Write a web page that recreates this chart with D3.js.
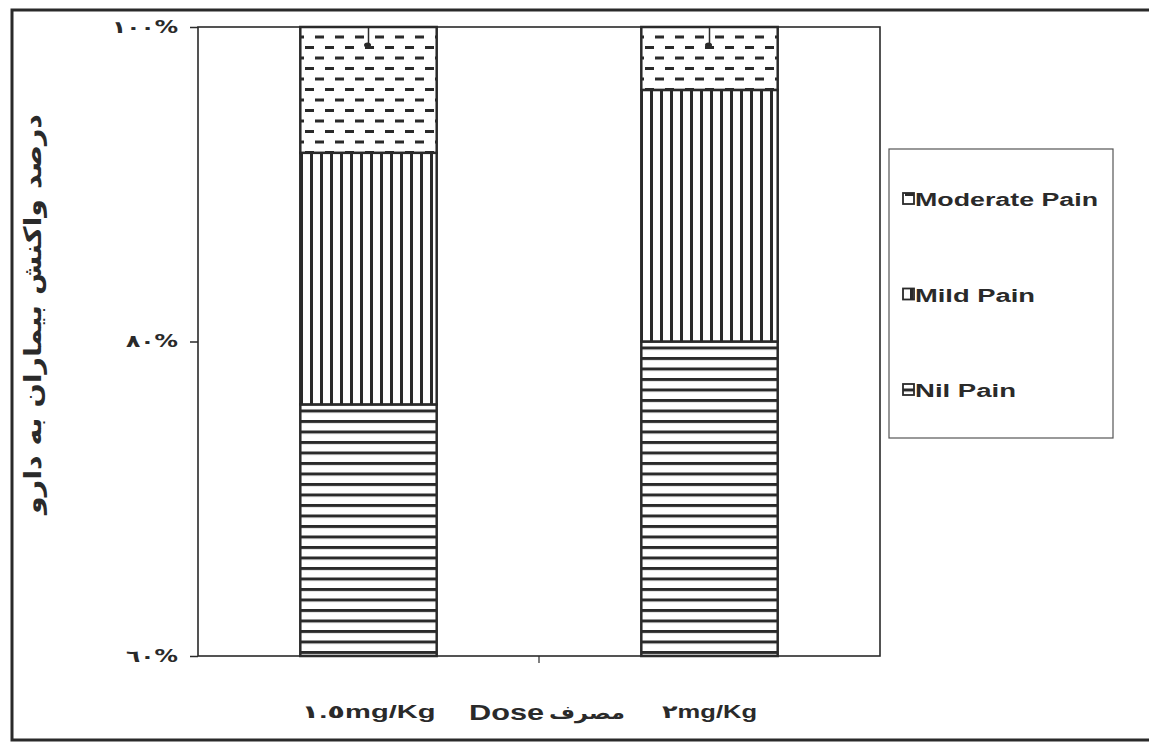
<!DOCTYPE html>
<html>
<head>
<meta charset="utf-8">
<script src="https://cdn.jsdelivr.net/npm/d3@7/dist/d3.min.js"></script>
<style>
  html, body { margin: 0; padding: 0; background: #fff; }
  svg { display: block; }
</style>
</head>
<body>
<svg id="chart" width="1149" height="744"></svg>
<script>
// ---- data ----
const categories = ["١.٥mg/Kg", "٢mg/Kg"];
const seriesNames = ["Nil Pain", "Mild Pain", "Moderate Pain"];
const nilPain = [76, 80];
const mildPain = [16, 16];
const moderatePain = [8, 4];
const errorVals = [1.15, 1.15];
const yTicks = [60, 80, 100];
const yTickLabels = ["٦٠%", "٨٠%", "١٠٠%"];
const yTitle = "درصد واکنش بیماران به دارو";
const xTitleLatin = "Dose";
const xTitleFa = "مصرف";

const svg = d3.select("#chart");
const ink = "#2a2a2a";

// ---- patterns ----
const defs = svg.append("defs");
const pNil = defs.append("pattern").attr("id", "pNil")
  .attr("patternUnits", "userSpaceOnUse").attr("width", 20).attr("height", 10.5);
pNil.append("rect").attr("width", 20).attr("height", 10.5).attr("fill", "#fff");
pNil.append("rect").attr("y", 0).attr("width", 20).attr("height", 3).attr("fill", ink);

const pMild = defs.append("pattern").attr("id", "pMild")
  .attr("patternUnits", "userSpaceOnUse").attr("width", 10).attr("height", 20);
pMild.append("rect").attr("width", 10).attr("height", 20).attr("fill", "#fff");
pMild.append("rect").attr("x", 0).attr("width", 3).attr("height", 20).attr("fill", ink);

const pMod = defs.append("pattern").attr("id", "pMod")
  .attr("patternUnits", "userSpaceOnUse").attr("width", 20).attr("height", 21);
pMod.append("rect").attr("width", 20).attr("height", 21).attr("fill", "#fff");
pMod.append("rect").attr("x", 5).attr("y", 4).attr("width", 9).attr("height", 3).attr("fill", ink);
pMod.append("rect").attr("x", -5).attr("y", 14.5).attr("width", 9).attr("height", 3).attr("fill", ink);
pMod.append("rect").attr("x", 15).attr("y", 14.5).attr("width", 9).attr("height", 3).attr("fill", ink);

const fills = {"Nil Pain": "url(#pNil)", "Mild Pain": "url(#pMild)", "Moderate Pain": "url(#pMod)"};

// ---- outer frame ----
svg.append("path")
  .attr("d", "M1160,10 L12,10 L12,740 L1160,740")
  .attr("fill", "none").attr("stroke", ink).attr("stroke-width", 3);

// ---- scales ----
const plot = {left: 198, right: 880, top: 27, bottom: 656};
const x = d3.scaleBand().domain(categories)
  .range([plot.left, plot.right]).paddingInner(0.6).paddingOuter(0.3);
const y = d3.scaleLinear().domain([60, 100]).range([plot.bottom, plot.top]);

// plot frame
svg.append("rect")
  .attr("x", plot.left).attr("y", plot.top)
  .attr("width", plot.right - plot.left).attr("height", plot.bottom - plot.top)
  .attr("fill", "none").attr("stroke", ink).attr("stroke-width", 1.6);

// ---- stacked data ----
const rows = categories.map((c, i) => ({
  cat: c, "Nil Pain": nilPain[i], "Mild Pain": mildPain[i], "Moderate Pain": moderatePain[i]
}));
const stack = d3.stack().keys(seriesNames)(rows);

const gBars = svg.append("g");
stack.forEach(layer => {
  gBars.selectAll(null).data(layer).enter().append("rect")
    .attr("x", d => x(d.data.cat))
    .attr("y", d => y(Math.min(100, Math.max(60, d[1]))))
    .attr("width", x.bandwidth())
    .attr("height", d => y(Math.max(60, d[0])) - y(Math.min(100, Math.max(60, d[1]))))
    .attr("fill", fills[layer.key])
    .attr("stroke", ink).attr("stroke-width", 2.5);
});

// error bars
const gErr = svg.append("g");
categories.forEach((c, i) => {
  const cx = x(c) + x.bandwidth() / 2;
  const total = nilPain[i] + mildPain[i] + moderatePain[i];
  gErr.append("line")
    .attr("x1", cx).attr("x2", cx)
    .attr("y1", y(total)).attr("y2", y(total - errorVals[i]))
    .attr("stroke", ink).attr("stroke-width", 1.5);
  gErr.append("ellipse")
    .attr("cx", cx - 1).attr("cy", y(total - errorVals[i]))
    .attr("rx", 3.5).attr("ry", 2.5).attr("fill", ink);
});

// ---- y axis ----
const yAxis = d3.axisLeft(y).tickValues(yTicks)
  .tickFormat((d, i) => yTickLabels[i]).tickSize(8).tickPadding(12);
const gy = svg.append("g").attr("transform", `translate(${plot.left},0)`).call(yAxis);
gy.select(".domain").remove();
gy.selectAll(".tick line").attr("stroke", ink).attr("stroke-width", 1.5);
gy.selectAll(".tick text")
  .attr("font-family", "'DejaVu Sans', sans-serif")
  .attr("font-weight", "bold").attr("font-size", 17)
  .attr("fill", ink).attr("direction", "ltr")
  .attr("textLength", (d, i) => i === 2 ? 66 : 52)
  .attr("lengthAdjust", "spacingAndGlyphs");

// ---- x axis ----
const xAxis = d3.axisBottom(x).tickSize(0).tickPadding(49);
const gx = svg.append("g").attr("transform", `translate(0,${plot.bottom})`).call(xAxis);
gx.select(".domain").remove();
gx.selectAll(".tick text")
  .attr("font-family", "'Liberation Sans', 'DejaVu Sans', sans-serif")
  .attr("font-weight", "bold").attr("font-size", 18)
  .attr("fill", ink).attr("direction", "ltr")
  .attr("textLength", (d, i) => i === 0 ? 134 : 95)
  .attr("lengthAdjust", "spacingAndGlyphs");
// separator tick
const midX = (x(categories[0]) + x.bandwidth() + x(categories[1])) / 2;
svg.append("line")
  .attr("x1", midX).attr("x2", midX)
  .attr("y1", plot.bottom).attr("y2", plot.bottom + 7)
  .attr("stroke", ink).attr("stroke-width", 1.2);

// x title
svg.append("text")
  .attr("x", midX - 70).attr("y", 720)
  .attr("font-family", "'Liberation Sans', sans-serif")
  .attr("font-weight", "bold").attr("font-size", 22).attr("fill", ink)
  .attr("textLength", 75).attr("lengthAdjust", "spacingAndGlyphs")
  .text(xTitleLatin);
svg.append("text")
  .attr("x", midX + 86).attr("y", 719)
  .attr("text-anchor", "end")
  .attr("font-family", "'DejaVu Sans', sans-serif")
  .attr("font-weight", "bold").attr("font-size", 18).attr("fill", ink)
  .attr("textLength", 76).attr("lengthAdjust", "spacingAndGlyphs")
  .text(xTitleFa);

// y title
svg.append("text")
  .attr("transform", "translate(41,314) rotate(-90)")
  .attr("text-anchor", "middle")
  .attr("font-family", "'DejaVu Sans', sans-serif")
  .attr("font-weight", "bold").attr("font-size", 24)
  .attr("fill", ink)
  .attr("textLength", 400).attr("lengthAdjust", "spacingAndGlyphs")
  .text(yTitle);

// ---- legend ----
const lg = svg.append("g");
lg.append("rect").attr("x", 889).attr("y", 149).attr("width", 224).attr("height", 289)
  .attr("fill", "#fff").attr("stroke", "#555").attr("stroke-width", 1.2);
const legendOrder = ["Moderate Pain", "Mild Pain", "Nil Pain"];
const legendY = d3.scalePoint().domain(legendOrder).range([199, 390]);
const legendWidths = {"Moderate Pain": 185, "Mild Pain": 122, "Nil Pain": 103};
legendOrder.forEach(k => {
  const cy = legendY(k);
  lg.append("rect").attr("x", 903).attr("y", cy - 6).attr("width", 11).attr("height", 11)
    .attr("fill", fills[k]).attr("stroke", ink).attr("stroke-width", 1.8);
  lg.append("text").attr("x", 915).attr("y", cy + 7)
    .attr("font-family", "'Liberation Sans', sans-serif")
    .attr("font-weight", "bold").attr("font-size", 18).attr("fill", ink)
    .attr("textLength", legendWidths[k] - 2).attr("lengthAdjust", "spacingAndGlyphs")
    .text(k);
});
</script>
</body>
</html>
